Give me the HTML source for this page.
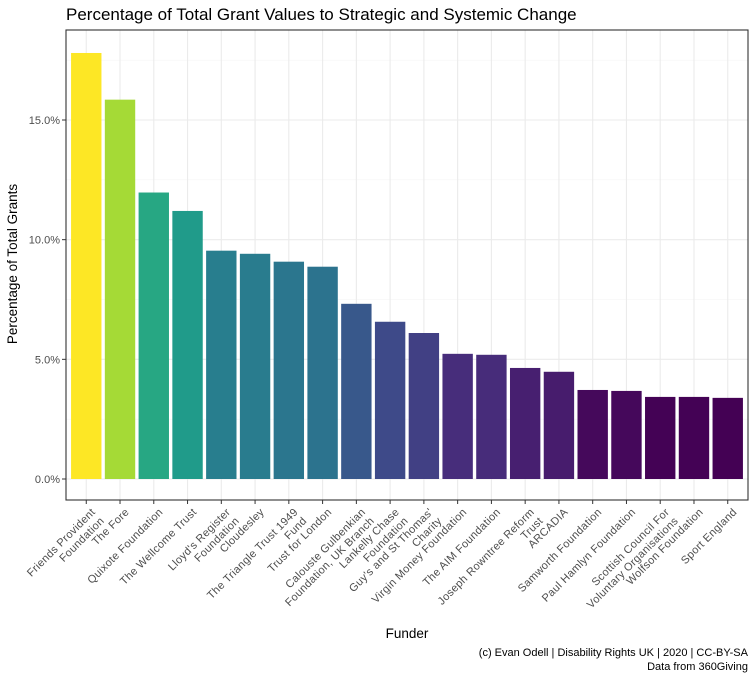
<!DOCTYPE html>
<html><head><meta charset="utf-8"><style>
body{margin:0;background:#fff}
svg{font-family:"Liberation Sans",Arial,sans-serif;display:block}
</style></head><body>
<svg id="c" width="755" height="680">
<text x="66" y="20" font-size="17" fill="#000">Percentage of Total Grant Values to Strategic and Systemic Change</text>
<text transform="translate(17,264) rotate(-90)" text-anchor="middle" font-size="13.5">Percentage of Total Grants</text>
<text x="407" y="638" text-anchor="middle" font-size="13.5">Funder</text>
<text x="748" y="656" text-anchor="end" font-size="11">(c) Evan Odell | Disability Rights UK | 2020 | CC-BY-SA</text>
<text x="748" y="670" text-anchor="end" font-size="11">Data from 360Giving</text>
<g id="plot"></g>
</svg>
<script>
const categories=[["Friends Provident","Foundation"],["The Fore"],["Quixote Foundation"],["The Wellcome Trust"],["Lloyd's Register","Foundation"],["Cloudesley"],["The Triangle Trust 1949","Fund"],["Trust for London"],["Calouste Gulbenkian","Foundation, UK Branch"],["Lankelly Chase","Foundation"],["Guy's and St Thomas'","Charity"],["Virgin Money Foundation"],["The AIM Foundation"],["Joseph Rowntree Reform","Trust"],["ARCADIA"],["Samworth Foundation"],["Paul Hamlyn Foundation"],["Scottish Council For","Voluntary Organisations"],["Wolfson Foundation"],["Sport England"]];
const values=[17.8,15.85,11.97,11.2,9.54,9.41,9.08,8.87,7.32,6.57,6.1,5.23,5.19,4.64,4.48,3.72,3.68,3.43,3.43,3.39];
const yTicks=[0,5,10,15];
const yTickLabels=["0.0%","5.0%","10.0%","15.0%"];
const viridis=["#440154","#482878","#3E4A89","#31688E","#26828E","#1F9E89","#35B779","#6DCD59","#B4DE2C","#FDE725"];
const NS="http://www.w3.org/2000/svg";
const L=66,R=748,T=30,B=500;
const y0=479,pxPer=(479-120)/15;
const n=categories.length;
const step=(R-L)/(n+0.2);
const y=v=>y0-v*pxPer;
const x=i=>L+step*(0.6+i);
function hex(h){return [1,3,5].map(k=>parseInt(h.substr(k,2),16));}
function col(t){t=Math.max(0,Math.min(1,t))*(viridis.length-1);const i=Math.min(Math.floor(t),viridis.length-2),f=t-i;const a=hex(viridis[i]),b=hex(viridis[i+1]);return "rgb("+a.map((v,k)=>Math.round(v+(b[k]-v)*f)).join(",")+")";}
const g=document.getElementById('plot');
function mk(tag,attrs,parent){const e=document.createElementNS(NS,tag);for(const k in attrs)e.setAttribute(k,attrs[k]);(parent||g).appendChild(e);return e;}
for(let v=2.5;y(v)>T;v+=5){const l=mk('line',{x1:L,x2:R,y1:y(v),y2:y(v),stroke:'#f4f4f4','stroke-width':0.6});

}
yTicks.forEach((v,i)=>{const l=mk('line',{x1:L,x2:R,y1:y(v),y2:y(v),stroke:'#ebebeb','stroke-width':1.1});


const tk=mk('line',{x1:L-4,x2:L,y1:y(v),y2:y(v),stroke:'#333','stroke-width':1});


const t=mk('text',{x:L-6,y:y(v)+4,'text-anchor':'end','font-size':11,fill:'#4d4d4d'});t.textContent=yTickLabels[i];

});
const mn=Math.min(...values),mx=Math.max(...values);
categories.forEach((c,i)=>{const cx=x(i);
const gl=mk('line',{x1:cx,x2:cx,y1:T,y2:B,stroke:'#ebebeb','stroke-width':1.1});


const bw=step*0.9;
const r=mk('rect',{x:cx-bw/2,y:y(values[i]),width:bw,height:y0-y(values[i]),fill:col((values[i]-mn)/(mx-mn))});


const tk=mk('line',{x1:cx,x2:cx,y1:B,y2:B+4,stroke:'#333','stroke-width':1});


const t=mk('text',{transform:`translate(${cx+4},${B+7}) rotate(-45)`,'text-anchor':'end','font-size':11,fill:'#4d4d4d','letter-spacing':'0.3'});
c.forEach((line,j)=>{const s=mk('tspan',{x:0,dy:j===0?8:12.5},t);s.textContent=line;});


});
const border=mk('rect',{x:L,y:T,width:R-L,height:B-T,fill:'none',stroke:'#333','stroke-width':1.1});


</script>
</body></html>
